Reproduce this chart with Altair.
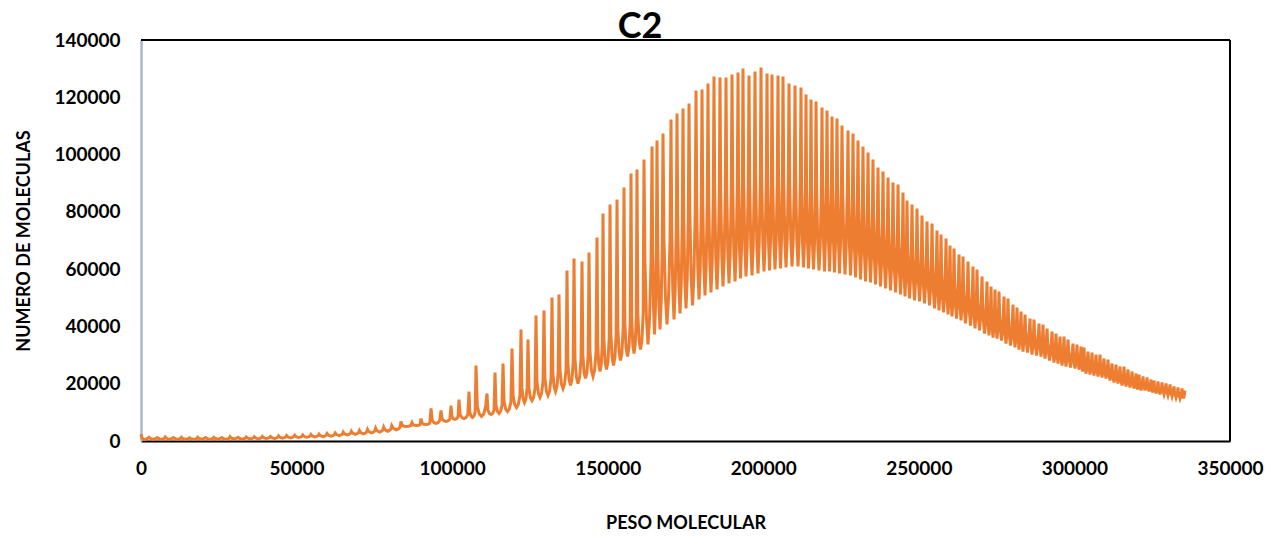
import altair as alt
import pandas as pd

# ---- low, nearly flat part of the curve (per oscillation: top, upper body, lower body, trough) ----
LOW_X = [0, 2600, 5200, 7800, 10400, 13000, 15600, 18200, 20800, 23400,
         26000, 28600, 31200, 33800, 36400, 39000, 41600, 44200, 46800, 49400,
         52000, 54600, 57200, 59800, 62400, 65000, 67600, 70200, 72800, 75400,
         78000, 80600]
LOW_PEAK = [2400, 1300, 1200, 1400, 1200, 1300, 1100, 1300, 1200, 1300,
            1200, 1500, 1300, 1400, 1500, 1600, 1600, 1800, 1900, 2000,
            2100, 2300, 2400, 2600, 2800, 3100, 3400, 3700, 4100, 4500,
            4900, 5400]
LOW_UPPER = [1000, 950, 900, 1000, 900, 950, 850, 1000, 900, 1000,
             900, 1100, 1000, 1100, 1150, 1250, 1250, 1400, 1500, 1600,
             1700, 1850, 1950, 2150, 2350, 2600, 2850, 3100, 3450, 3800,
             4150, 4650]
LOW_LOWER = [700, 700, 700, 750, 700, 700, 650, 750, 700, 750,
             700, 850, 800, 850, 900, 1000, 1000, 1150, 1250, 1350,
             1450, 1600, 1700, 1900, 2100, 2300, 2550, 2750, 3050, 3400,
             3700, 4200]
LOW_TROUGH = [500, 600, 600, 600, 600, 600, 600, 650, 650, 650,
              650, 700, 700, 750, 800, 850, 900, 1000, 1100, 1200,
              1300, 1400, 1500, 1700, 1900, 2100, 2300, 2500, 2800, 3100,
              3400, 3900]

# ---- oscillating part ----
PEAK_X = [83560, 87100, 89990, 93210, 96420, 99640, 102200, 105420, 107670, 111200,
          113780, 116350, 119240, 122130, 124380, 126950, 129520, 132100, 134350, 136920,
          139170, 141740, 143990, 146560, 148490, 150740, 152990, 155240, 157490, 159410,
          161660, 164240, 165840, 167770, 170340, 172270, 174200, 176130, 178380, 180310,
          182230, 184160, 186090, 188020, 189950, 191880, 193480, 195410, 197340, 199270,
          201200, 202800, 204730, 206340, 208270, 210200, 212120, 213730, 215340, 216950,
          218870, 220480, 222090, 223690, 225300, 227230, 228840, 230440, 232050, 233660,
          235260, 236870, 238480, 240090, 241690, 243300, 244910, 246190, 247800, 249410,
          251010, 252620, 254230, 255830, 257120, 258730, 260010, 261300, 262910, 264190,
          265800, 267400, 268690, 270300, 271900, 273190, 274480, 275760, 277370, 278650,
          280260, 281550, 282830, 284120, 285720, 287010, 288620, 289900, 291190, 292800,
          294080, 295370, 296650, 297940, 299540, 300830, 302120, 303080, 304370, 305650,
          306940, 308220, 309510, 310790, 312080, 313370, 314650, 315940, 317220, 318510,
          319790, 320760, 322040, 323330, 324610, 325580, 326860, 328150, 329440, 330720,
          332010, 333290, 334580, 335540]
PEAK_Y = [6810, 6460, 7850, 11350, 10650, 12390, 14490, 17280, 26360, 16580,
          23910, 27060, 32290, 38920, 35430, 43810, 45560, 50100, 51140, 59520,
          63710, 62660, 65800, 71040, 79420, 82560, 84310, 88500, 93380, 94780,
          98270, 102810, 104900, 107350, 112240, 114330, 116080, 117820, 122360, 122710,
          124800, 127250, 126900, 126900, 127950, 128640, 130040, 127600, 128990, 130390,
          128290, 127950, 127600, 127250, 124800, 124100, 123410, 120960, 119220, 118520,
          116420, 115380, 113280, 112580, 110140, 108400, 107350, 104900, 102810, 100720,
          98270, 95480, 94080, 91990, 90240, 89540, 86750, 83960, 82560, 81170,
          78720, 76630, 75930, 73490, 72090, 70690, 68250, 67200, 65110, 64410,
          62660, 60920, 59870, 57430, 55680, 53940, 52890, 52190, 50440, 49750,
          47650, 46600, 45210, 44160, 42760, 42420, 41020, 40670, 39270, 38230,
          37530, 36480, 36480, 35430, 34040, 33690, 32990, 32640, 31240, 30900,
          30200, 30200, 28800, 28450, 27060, 26710, 26010, 26010, 24960, 24260,
          23560, 23220, 22520, 22170, 21470, 21120, 20770, 20420, 20070, 19720,
          19030, 18680, 18330, 17630]
UPPER_Y = [5410, 5620, 6180, 7160, 7580, 8490, 9180, 10020, 12110, 10720,
           12460, 13650, 15810, 18540, 18400, 20910, 21820, 23840, 24890, 27410,
           28800, 29990, 31180, 33620, 35850, 37600, 39340, 41300, 43120, 44510,
           62750, 66710, 68620, 70680, 73840, 75930, 77680, 79030, 82230, 83150,
           84670, 86350, 86770, 87340, 88200, 89090, 90100, 89200, 90200, 91220,
           90470, 90510, 90540, 90580, 89670, 89350, 88850, 87550, 86580, 86070,
           90660, 90090, 88770, 88230, 86730, 85620, 84730, 83070, 81600, 80300,
           78630, 76790, 75700, 74240, 72960, 72260, 70410, 68570, 67480, 66560,
           64900, 63430, 62580, 60920, 59840, 58750, 57100, 56200, 54740, 53890,
           52610, 51180, 50290, 48480, 47200, 45930, 45190, 44490, 43060, 42370,
           41650, 40740, 39620, 38860, 37740, 37390, 36410, 35920, 34800, 33900,
           33340, 32430, 32290, 31520, 30550, 30200, 29500, 29010, 28030, 27690,
           27130, 26990, 26010, 25520, 24400, 24050, 23360, 23220, 22450, 21890,
           21330, 20980, 20560, 20210, 19650, 19300, 18950, 18740, 18390, 18040,
           17490, 17140, 16930, 16370]
LOWER_Y = [5150, 5460, 5860, 6370, 7000, 7750, 8180, 8650, 9440, 9620,
           10320, 11140, 12720, 14710, 15200, 16620, 17370, 18920, 19970, 21390,
           22250, 23860, 24680, 26600, 27680, 29170, 30910, 32450, 33690, 35080,
           43380, 47020, 48830, 50670, 52890, 54980, 56730, 57880, 60340, 61580,
           62780, 64040, 64880, 65770, 66520, 67520, 68320, 68250, 69050, 69850,
           69840, 70080, 70330, 70570, 70500, 70400, 70000, 69330, 68770, 68370,
           70620, 70410, 69710, 69290, 68520, 67900, 67130, 66080, 65110, 64410,
           63360, 62250, 61410, 60430, 59520, 58820, 57700, 56590, 55750, 55190,
           54140, 53170, 52190, 51150, 50310, 49470, 48420, 47650, 46680, 45700,
           44790, 43600, 42840, 41510, 40600, 39690, 39200, 38500, 37320, 36620,
           36390, 35610, 34730, 34220, 33340, 32990, 32380, 31770, 30890, 30110,
           29680, 28890, 28630, 28100, 27490, 27140, 26440, 25830, 25230, 24880,
           24440, 24180, 23570, 22950, 22080, 21730, 21040, 20780, 20250, 19810,
           19380, 19030, 18850, 18500, 18070, 17720, 17370, 17280, 16930, 16580,
           16150, 15800, 15710, 15280]
TROUGH_Y = [5060, 5410, 5760, 6110, 6810, 7510, 7850, 8200, 8550, 9250,
            9600, 10300, 11690, 13440, 14140, 15190, 15890, 17280, 18330, 19380,
            20070, 21820, 22520, 24260, 24960, 26360, 28100, 29500, 30550, 31940,
            33690, 37180, 38930, 40670, 42420, 44510, 46260, 47300, 49400, 50790,
            51840, 52890, 53940, 54980, 55680, 56730, 57430, 57780, 58470, 59170,
            59520, 59870, 60220, 60570, 60920, 60920, 60570, 60220, 59870, 59520,
            59170, 59170, 58820, 58470, 58120, 57780, 57080, 56380, 55680, 55330,
            54630, 53940, 53240, 52540, 51840, 51140, 50440, 49750, 49050, 48700,
            48000, 47300, 46260, 45560, 44860, 44160, 43460, 42760, 42070, 41020,
            40320, 39270, 38580, 37530, 36830, 36130, 35780, 35080, 34040, 33340,
            32640, 31940, 31240, 30900, 30200, 29850, 29500, 28800, 28100, 27400,
            27060, 26360, 26010, 25660, 25310, 24960, 24260, 23560, 23220, 22870,
            22520, 22170, 21820, 21120, 20420, 20070, 19380, 19030, 18680, 18330,
            17980, 17630, 17630, 17280, 16930, 16580, 16230, 16230, 15880, 15530,
            15190, 14840, 14840, 14490]

X_TICKS = [0, 50000, 100000, 150000, 200000, 250000, 300000, 350000]
Y_TICKS = [0, 20000, 40000, 60000, 80000, 100000, 120000, 140000]

all_x = LOW_X + PEAK_X
all_p = LOW_PEAK + PEAK_Y
all_u = LOW_UPPER + UPPER_Y
all_l = LOW_LOWER + LOWER_Y
all_t = LOW_TROUGH + TROUGH_Y

# each oscillation: narrow spike up, body, narrow dip down, body
xs, ys = [], []
for i in range(len(all_x)):
    xs.append(all_x[i])
    ys.append(all_p[i])
    if i + 1 < len(all_x):
        d = all_x[i + 1] - all_x[i]
        xs += [all_x[i] + f * d for f in (0.12, 0.3, 0.5, 0.7, 0.88)]
        ys += [all_u[i], all_l[i], all_t[i], all_l[i], all_u[i]]
df = pd.DataFrame({"x": xs, "y": ys, "order": list(range(len(xs)))})

W, H = 1089, 401
FONT = "Lato"

line = alt.Chart(df).mark_line(color="#ED7D31", strokeWidth=3.0).encode(
    x=alt.X("x:Q", scale=alt.Scale(domain=[0, 350000], nice=False),
            axis=alt.Axis(values=X_TICKS, format="d", title="PESO MOLECULAR",
                          grid=False, ticks=False, tickSize=0, labelPadding=18,
                          labelFont=FONT, labelFontSize=19, labelFontWeight="bold",
                          labelColor="black", domainColor="black", domainWidth=2,
                          titleFont=FONT, titleFontSize=18, titleFontWeight="bold",
                          titleColor="black", titlePadding=36, labelFlush=False)),
    y=alt.Y("y:Q", scale=alt.Scale(domain=[0, 140000], nice=False),
            axis=alt.Axis(values=Y_TICKS, format="d", title="NUMERO DE MOLECULAS",
                          grid=False, ticks=False, tickSize=0, labelPadding=21,
                          labelFont=FONT, labelFontSize=19, labelFontWeight="bold",
                          labelColor="black", domainColor="#A9B7CA", domainWidth=2.5,
                          titleFont=FONT, titleFontSize=18, titleFontWeight="bold",
                          titleColor="black", titlePadding=20, labelFlush=False)),
    order="order:Q",
)

top_rule = alt.Chart(df).mark_rule(color="black", strokeWidth=2).encode(
    x=alt.value(0), x2=alt.value(W), y=alt.value(0))
right_rule = alt.Chart(df).mark_rule(color="black", strokeWidth=2).encode(
    x=alt.value(W), y=alt.value(0), y2=alt.value(H))

title = alt.Chart(pd.DataFrame({"t": ["C2"]})).mark_text(
    font=FONT, fontSize=36, fontWeight="bold", color="black",
    align="center", baseline="alphabetic").encode(
    text="t:N", x=alt.value(499), y=alt.value(-2))

chart = alt.layer(line, top_rule, right_rule, title).properties(
    width=W, height=H,
    autosize=alt.AutoSizeParams(type="none"),
    padding={"left": 141, "top": 40, "right": 42, "bottom": 95},
).configure_view(stroke=None).configure(background="white")

chart.save("out.html", embed_options={"renderer": "svg", "actions": False})
